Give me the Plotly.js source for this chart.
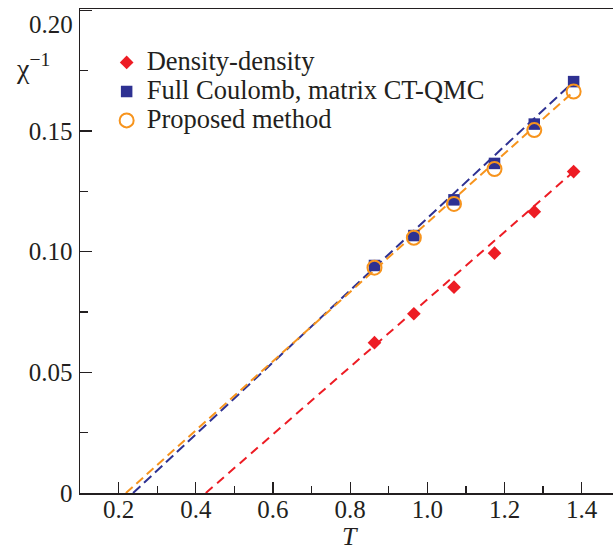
<!DOCTYPE html>
<html>
<head>
<meta charset="utf-8">
<script src="https://cdn.plot.ly/plotly-3.0.1.min.js"></script>
<style>html,body{margin:0;padding:0;background:#fff;overflow:hidden}#chart{width:613px;height:550px}</style>
</head>
<body>
<div id="chart"></div>
<script>
// ---- data ----
const T = [0.863, 0.965, 1.069, 1.174, 1.277, 1.379];
const densityDensity = [0.0623, 0.0743, 0.0853, 0.0994, 0.1166, 0.1332];
const fullCoulomb = [0.0943, 0.1067, 0.1215, 0.1366, 0.1529, 0.1705];
const proposed = [0.0934, 0.1058, 0.1198, 0.1343, 0.1504, 0.1664];

// linear fits (dashed lines), endpoints
const fitDensityT = [0.426, 1.379];
const fitDensityY = [0, 0.1332];
const fitCoulombT = [0.2375, 1.379];
const fitCoulombY = [0, 0.1705];
const fitProposedT = [0.219, 1.379];
const fitProposedY = [0, 0.1664];

const seriesNames = ["Density-density", "Full Coulomb, matrix CT-QMC", "Proposed method"];
const yTickVals = [0, 0.05, 0.10, 0.15, 0.20];
const yTickText = ["0", "0.05", "0.10", "0.15", "0.20"];
const xTickVals = [0.2, 0.4, 0.6, 0.8, 1.0, 1.2, 1.4];
const xTickText = ["0.2", "0.4", "0.6", "0.8", "1.0", "1.2", "1.4"];

const RED = "#ed1c24", BLUE = "#2e3192", ORANGE = "#f7941d", INK = "#231f20";
const FONT = "'Liberation Serif', 'Times New Roman', serif";

const traces = [
  {x: fitDensityT, y: fitDensityY, mode: "lines", showlegend: false, hoverinfo: "skip",
   line: {color: RED, width: 2, dash: "9px,6px"}},
  {x: fitCoulombT, y: fitCoulombY, mode: "lines", showlegend: false, hoverinfo: "skip",
   line: {color: BLUE, width: 2, dash: "10px,5px"}},
  {x: fitProposedT, y: fitProposedY, mode: "lines", showlegend: false, hoverinfo: "skip",
   line: {color: ORANGE, width: 2, dash: "9px,5px"}},
  {x: T, y: densityDensity, mode: "markers", name: '<span style="font-size:26.5px">' + seriesNames[0] + '</span>',
   marker: {symbol: "diamond", size: 10.5, color: RED}},
  {x: T, y: fullCoulomb, mode: "markers", name: '<span style="font-size:26.5px">' + seriesNames[1] + '</span>',
   marker: {symbol: "square", size: 11.5, color: BLUE}},
  {x: T, y: proposed, mode: "markers", name: '<span style="font-size:26.5px">' + seriesNames[2] + '</span>',
   marker: {symbol: "circle-open", size: 14, color: ORANGE, line: {width: 2, color: ORANGE}}}
];

// the top tick label sits a little below its tick in the reference: draw it as an annotation
const lastY = yTickVals.length - 1;
const yAxisText = yTickText.map((t, i) => (i === lastY ? "" : t));

const layout = {
  width: 613, height: 550,
  margin: {l: 80, r: 0, t: 9, b: 57, pad: 0},
  paper_bgcolor: "#fff", plot_bgcolor: "#fff",
  font: {family: FONT, color: INK, size: 25},
  showlegend: true,
  legend: {x: 0.05, y: 0.93, xanchor: "left", yanchor: "top", bgcolor: "rgba(0,0,0,0)",
           font: {family: FONT, size: 20, color: INK}, tracegroupgap: 0, traceorder: "normal"},
  xaxis: {
    range: [0.1, 1.481], showgrid: false, zeroline: false,
    showline: true, linecolor: INK, linewidth: 1.5, mirror: true,
    ticks: "inside", ticklen: 11, tickwidth: 1.3, tickcolor: INK,
    tickmode: "array", tickvals: xTickVals, ticktext: xTickText,
    ticklabelstandoff: -7, ticklabeloverflow: "allow",
    minor: {tickmode: "linear", tick0: 0.1, dtick: 0.1, ticks: "inside", ticklen: 7, tickwidth: 1.3, tickcolor: INK},
    tickfont: {family: FONT, size: 25, color: INK}
  },
  yaxis: {
    range: [0, 0.2006], showgrid: false, zeroline: false,
    showline: true, linecolor: INK, linewidth: 1.5, mirror: false,
    ticks: "inside", ticklen: 12, tickwidth: 1.3, tickcolor: INK,
    tickmode: "array", tickvals: yTickVals, ticktext: yAxisText,
    ticklabelstandoff: 1, ticklabeloverflow: "allow",
    minor: {tickmode: "linear", tick0: 0, dtick: 0.025, ticks: "inside", ticklen: 8, tickwidth: 1.3, tickcolor: INK},
    tickfont: {family: FONT, size: 25, color: INK}
  },
  annotations: [
    {xref: "paper", yref: "y", x: 0, y: yTickVals[lastY], xanchor: "right", yanchor: "top", xshift: -5, yshift: 1,
     showarrow: false, text: yTickText[lastY], font: {family: FONT, size: 25, color: INK}},
    {xref: "paper", yref: "paper", x: 0, y: 0.882, xanchor: "left", yanchor: "middle", xshift: -66,
     showarrow: false, text: "χ<sup>−1</sup>", font: {family: FONT, size: 28, color: INK}},
    {xref: "x", yref: "paper", x: 0.8, y: 0, yanchor: "top", yshift: -27,
     showarrow: false, text: "<i>T</i>", font: {family: FONT, size: 26, color: INK}}
  ]
};

Plotly.newPlot("chart", traces, layout, {displayModeBar: false, staticPlot: true});
</script>
</body>
</html>
